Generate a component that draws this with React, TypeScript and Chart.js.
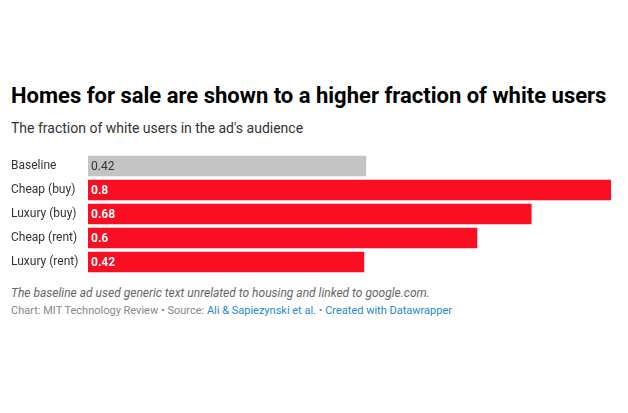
import React, { useEffect, useRef } from "react";
import { Chart, registerables } from "chart.js";

Chart.register(...registerables);

const categories = ["Baseline", "Cheap (buy)", "Luxury (buy)", "Cheap (rent)", "Luxury (rent)"];
const values = [0.425, 0.8, 0.678, 0.595, 0.422];
const valueLabels = ["0.42", "0.8", "0.68", "0.6", "0.42"];
const barColors = ["#c4c4c4", "#f90f21", "#f90f21", "#f90f21", "#f90f21"];
const labelColors = ["#333333", "#ffffff", "#ffffff", "#ffffff", "#ffffff"];
const labelWeights = ["normal", "bold", "bold", "bold", "bold"];

const FONT = "Roboto, 'Noto Sans', sans-serif";

const valueLabelPlugin = {
  id: "valueLabels",
  afterDatasetsDraw(chart: any) {
    const ctx = chart.ctx;
    const meta = chart.getDatasetMeta(0);
    ctx.save();
    meta.data.forEach((bar: any, i: number) => {
      ctx.font = `${labelWeights[i]} 12px ${FONT}`;
      ctx.fillStyle = labelColors[i];
      ctx.textAlign = "left";
      ctx.textBaseline = "middle";
      ctx.fillText(valueLabels[i], bar.base + 3, bar.y + 1);
    });
    ctx.restore();
  },
};

export default function App() {
  const ref = useRef<HTMLCanvasElement | null>(null);
  useEffect(() => {
    if (!ref.current) return;
    const chart = new Chart(ref.current, {
      type: "bar",
      data: {
        labels: categories,
        datasets: [
          {
            data: values,
            backgroundColor: barColors,
            barThickness: 20,
            borderWidth: 0,
          },
        ],
      },
      options: {
        indexAxis: "y",
        animation: false,
        responsive: false,
        maintainAspectRatio: false,
        layout: { padding: { left: 11, right: 17, top: 4, bottom: 6 } },
        plugins: { legend: { display: false }, tooltip: { enabled: false } },
        scales: {
          x: { display: false, min: 0, max: 0.8, grid: { display: false } },
          y: {
            grid: { display: false, drawTicks: false },
            border: { display: false },
            ticks: {
              crossAlign: "far",
              padding: 0,
              color: "#333333",
              font: { family: FONT, size: 12 },
            },
            afterFit(scale: any) {
              scale.width = 77;
              scale.paddingTop = 0;
              scale.paddingBottom = 0;
            },
          },
        },
      },
      plugins: [valueLabelPlugin],
    });
    return () => chart.destroy();
  }, []);

  return (
    <div style={{ position: "fixed", left: 0, top: 0, width: 628, height: 413, background: "#fff", fontFamily: FONT }}>
      <div style={{ position: "absolute", left: 11, top: 82, fontSize: 22, fontWeight: 700, color: "#000", whiteSpace: "nowrap", lineHeight: "28px" }}>
        Homes for sale are shown to a higher fraction of white users
      </div>
      <div style={{ position: "absolute", left: 11, top: 118, fontSize: 14, color: "#333", whiteSpace: "nowrap", lineHeight: "20px" }}>
        The fraction of white users in the ad's audience
      </div>
      <canvas ref={ref} width={628} height={130} style={{ position: "absolute", left: 0, top: 150, width: 628, height: 130 }} />
      <div style={{ position: "absolute", left: 11, top: 284, fontSize: 12, fontStyle: "italic", color: "#666", whiteSpace: "nowrap", lineHeight: "18px" }}>
        The baseline ad used generic text unrelated to housing and linked to google.com.
      </div>
      <div style={{ position: "absolute", left: 11, top: 303, fontSize: 11, color: "#888", whiteSpace: "nowrap", lineHeight: "16px" }}>
        Chart: MIT Technology Review • Source: <span style={{ color: "#1d8ad0" }}>Ali &amp; Sapiezynski et al.</span> • <span style={{ color: "#1d8ad0" }}>Created with Datawrapper</span>
      </div>
    </div>
  );
}
